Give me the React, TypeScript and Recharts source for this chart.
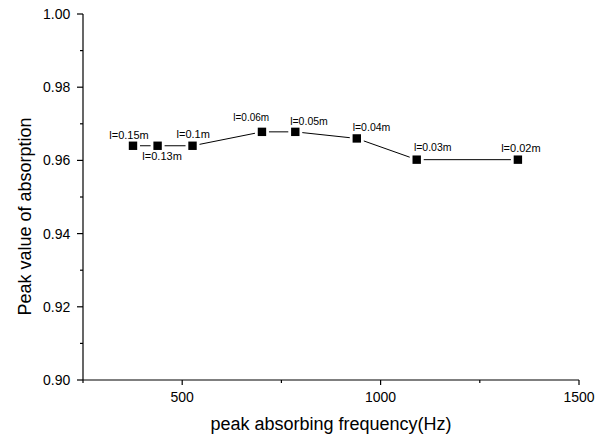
import { LineChart, Line, XAxis, YAxis, LabelList, Label } from "recharts";

const FREQUENCY = [376, 438, 526, 701, 785, 940, 1091, 1346];
const ABSORPTION = [0.964, 0.964, 0.964, 0.9678, 0.9678, 0.966, 0.9602, 0.9602];
const LENGTHS = ["l=0.15m", "l=0.13m", "l=0.1m", "l=0.06m", "l=0.05m", "l=0.04m", "l=0.03m", "l=0.02m"];

const X_TICKS = [250, 500, 750, 1000, 1250, 1500];
const X_LABELED = [500, 1000, 1500];
const X_TOP_TICKS = [250, 375, 500, 625, 750, 875, 1000, 1125, 1250, 1375, 1500];
const Y_TICKS = [0.9, 0.91, 0.92, 0.93, 0.94, 0.95, 0.96, 0.97, 0.98, 0.99, 1.0];
const Y_LABELED = [0.9, 0.92, 0.94, 0.96, 0.98, 1.0];

// label placement relative to each marker (dx, dy, font size)
const LABEL_OFFSETS = [
  [-4, -10.5, 11],
  [4.5, 10.5, 11],
  [0.7, -11.5, 11],
  [-10.7, -14, 10],
  [13.7, -10.5, 10.5],
  [14.7, -11, 10.5],
  [16, -12.6, 10.5],
  [3, -11.3, 11],
];

const FONT = "Arial, 'Liberation Sans', sans-serif";

const data = FREQUENCY.map((f, i) => ({
  freq: f,
  absorption: ABSORPTION[i],
  label: LENGTHS[i],
}));

const isIn = (list: number[], v: number) => list.some((t) => Math.abs(t - v) < 1e-6);

const tickStroke = { stroke: "#000", strokeWidth: 1.2, fill: "none" };

function bottomTick(p: any) {
  const { x, y, payload, index } = p;
  const major = isIn(X_LABELED, payload.value);
  return (
    <g key={`b${index}`}>
      <path d={`M${x},${y}V${y + (major ? 5 : 3)}`} {...tickStroke} />
      {major && (
        <text x={x} y={y + 17.5} dy="0.355em" textAnchor="middle" fontSize={14} fill="#000" fontFamily={FONT}>
          {payload.value}
        </text>
      )}
    </g>
  );
}

function topTick(p: any) {
  const { x, y, payload, index } = p;
  const major = isIn(X_TICKS, payload.value);
  return (
    <g key={`t${index}`}>
      <path d={`M${x},${y}V${y + (major ? 5 : 3)}`} {...tickStroke} />
    </g>
  );
}

function leftTick(p: any) {
  const { x, y, payload, index } = p;
  const major = isIn(Y_LABELED, payload.value);
  return (
    <g key={`l${index}`}>
      <path d={`M${x},${y}H${x - (major ? 6 : 3)}`} {...tickStroke} />
      {major && (
        <text x={x - 12.7} y={y} dy="0.355em" textAnchor="end" fontSize={14} fill="#000" fontFamily={FONT}>
          {payload.value.toFixed(2)}
        </text>
      )}
    </g>
  );
}

function rightTick(p: any) {
  const { x, y, payload, index } = p;
  const major = isIn(Y_LABELED, payload.value);
  return (
    <g key={`r${index}`}>
      <path d={`M${x},${y}H${x - (major ? 5 : 3)}`} {...tickStroke} />
    </g>
  );
}

function Square(props: any) {
  const { cx, cy, index } = props;
  if (cx == null || cy == null) return <g key={index} />;
  return (
    <g key={index}>
      <rect x={cx - 7} y={cy - 7} width={14} height={14} fill="#fff" />
      <rect x={cx - 4.2} y={cy - 4.2} width={8.4} height={8.4} fill="#000" />
    </g>
  );
}

function PointLabel(props: any) {
  const { x, y, value, index } = props;
  const [dx, dy, size] = LABEL_OFFSETS[index] ?? [0, -11, 11];
  return (
    <text x={x + dx} y={y + dy} dy="0.355em" textAnchor="middle" fontSize={size} fill="#000" fontFamily={FONT}>
      {value}
    </text>
  );
}

export default function App() {
  return (
    <div style={{ width: 608, height: 439, background: "#fff", overflow: "hidden" }}>
      <style>{"html,body{margin:0;padding:0;overflow:hidden}"}</style>
      <LineChart
        width={608}
        height={439}
        data={data}
        margin={{ top: 14, right: 29, bottom: 0, left: 8 }}
        style={{ fontFamily: FONT }}
      >
        <XAxis
          xAxisId="bottom"
          dataKey="freq"
          type="number"
          domain={[250, 1500]}
          ticks={X_TICKS}
          interval={0}
          height={59}
          tickSize={0}
          tickMargin={0}
          tickLine={false}
          axisLine={{ stroke: "#000", strokeWidth: 1.2 }}
          tick={bottomTick}
        >
          <Label
            content={({ viewBox }: any) => (
              <text
                x={viewBox.x + viewBox.width / 2}
                y={viewBox.y + 50}
                textAnchor="middle"
                fontSize={18}
                fill="#000"
                fontFamily={FONT}
              >
                peak absorbing frequency(Hz)
              </text>
            )}
          />
        </XAxis>
        <XAxis
          xAxisId="top"
          orientation="top"
          type="number"
          domain={[250, 1500]}
          ticks={X_TOP_TICKS}
          interval={0}
          height={0}
          tickSize={0}
          tickMargin={0}
          tickLine={false}
          axisLine={{ stroke: "#000", strokeWidth: 1.2 }}
          tick={topTick}
        />
        <YAxis
          yAxisId="left"
          type="number"
          domain={[0.9, 1.0]}
          ticks={Y_TICKS}
          interval={0}
          width={75}
          tickSize={0}
          tickMargin={0}
          tickLine={false}
          axisLine={{ stroke: "#000", strokeWidth: 1.2 }}
          tick={leftTick}
        >
          <Label
            content={({ viewBox }: any) => {
              const cx = 25;
              const cy = viewBox.y + viewBox.height / 2 + 19.5;
              return (
                <text
                  x={cx}
                  y={cy}
                  dy="0.355em"
                  transform={`rotate(-90 ${cx} ${cy})`}
                  textAnchor="middle"
                  fontSize={18}
                  fill="#000"
                  fontFamily={FONT}
                >
                  Peak value of absorption
                </text>
              );
            }}
          />
        </YAxis>
        <YAxis
          yAxisId="right"
          orientation="right"
          type="number"
          domain={[0.9, 1.0]}
          ticks={Y_TICKS}
          interval={0}
          width={0}
          tickSize={0}
          tickMargin={0}
          tickLine={false}
          axisLine={{ stroke: "#000", strokeWidth: 1.2 }}
          tick={rightTick}
        />
        <Line
          xAxisId="bottom"
          yAxisId="left"
          dataKey="absorption"
          stroke="#000"
          strokeWidth={1}
          dot={Square}
          activeDot={false}
          isAnimationActive={false}
        >
          <LabelList dataKey="label" content={PointLabel} />
        </Line>
      </LineChart>
    </div>
  );
}
